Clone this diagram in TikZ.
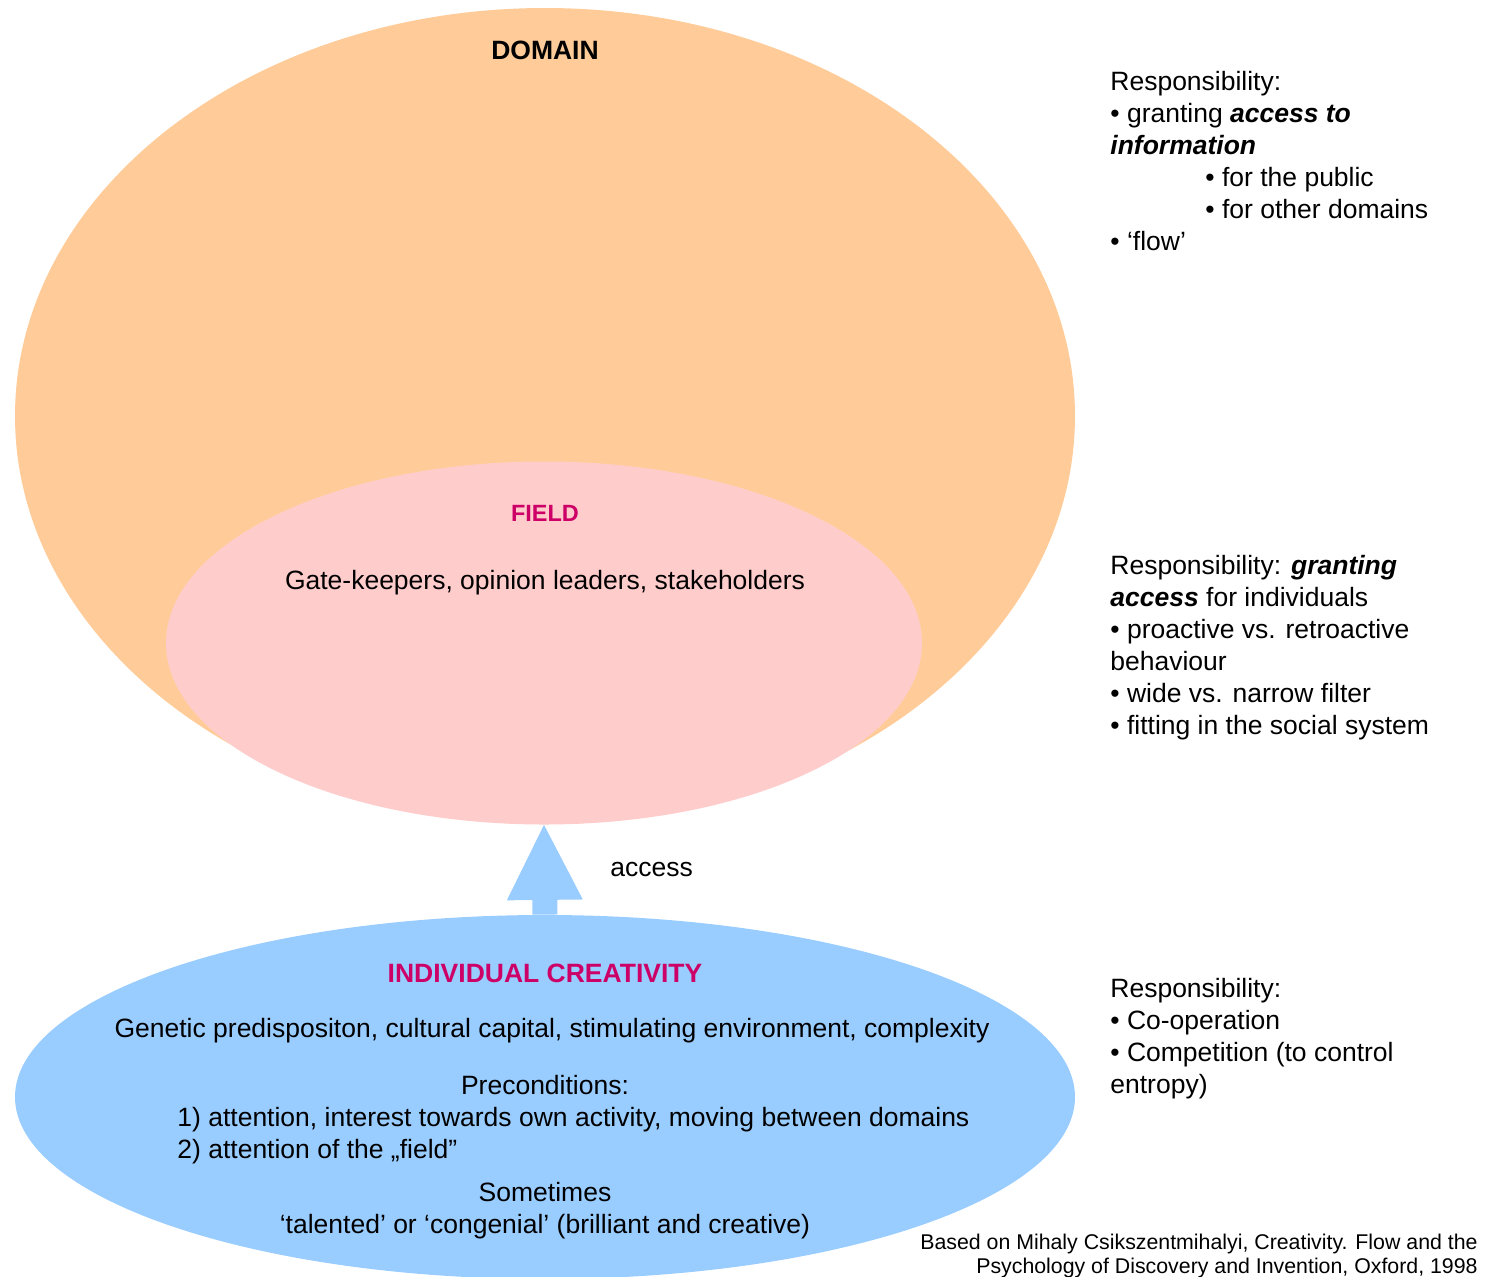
\documentclass[tikz,border=0pt]{standalone}
\usepackage{fontspec}
\setmainfont{Liberation Sans}
\usepackage{xcolor}
\usetikzlibrary{shapes.geometric, arrows.meta, positioning}
\definecolor{domainorange}{HTML}{FFCC99}
\definecolor{fieldpink}{HTML}{FFCCCC}
\definecolor{indivblue}{HTML}{99CCFF}
\definecolor{titlemagenta}{HTML}{CC0066}
\tikzset{every node/.append style={inner sep=0pt}}

\begin{document}
\begin{tikzpicture}[
    x=0.5pt, y=-0.5pt,
    txt/.style={font=\fontsize{13.25}{16}\selectfont, anchor=base},
    ttl/.style={font=\fontsize{13.25}{16}\selectfont\bfseries, anchor=base},
    resp/.style={font=\fontsize{13.25}{16}\selectfont, align=left, anchor=north west},
    blob/.style={ellipse, inner sep=0pt},
    acc/.style={draw=indivblue, line width=12.5pt,
        -{Triangle[length=37.5pt, width=38pt, line width=0pt, fill=indivblue]}}
]
\useasboundingbox (0,0) rectangle (1495,1276);

% ===== ELLIPSES =====
\node[blob, fill=domainorange, minimum width=530pt, minimum height=408pt] (domain) at (545,416) {};
\node[blob, fill=fieldpink, minimum width=378pt, minimum height=181.5pt] (field) at (544,643) {};
\node[blob, fill=indivblue, minimum width=530pt, minimum height=182pt] (indiv) at (545,1097) {};
\draw[acc] (indiv.north) -- (field.south);
\node[txt, anchor=base west] (acclbl) at (610,876) {access};

% ===== DOMAIN / FIELD =====
\node[ttl] (domaint) at (545,59) {DOMAIN};
\node[ttl, font=\fontsize{11.75}{14}\selectfont\bfseries, text=titlemagenta] (fieldt) at (545,521) {FIELD};
\node[txt] (gate) at (545,589) {Gate-keepers, opinion leaders, stakeholders};

% ===== INDIVIDUAL =====
\node[ttl, text=titlemagenta] (indivt) at (545,982) {INDIVIDUAL CREATIVITY};
\node[txt] (genetic) at (552,1037) {Genetic predispositon, cultural capital, stimulating environment, complexity};
\node[txt] (precond) at (545,1094) {Preconditions:};
\node[txt, anchor=base west] (pre1) at (177,1126) {1) attention, interest towards own activity, moving between domains};
\node[txt, anchor=base west] (pre2) at (177,1158) {2) attention of the „field”};
\node[txt] (sometimes) at (545,1201) {Sometimes};
\node[txt] (talented) at (545,1233) {‘talented’ or ‘congenial’ (brilliant and creative)};

% ===== RESPONSIBILITIES (right) =====
\node[resp] (respdomain) at (1110,71) {Responsibility:\\
  • granting \textbf{\textit{access to}}\\
  \textbf{\textit{information}}\\
  \hspace*{47.5pt}• for the public\\
  \hspace*{47.5pt}• for other domains\\
  • ‘flow’};
\node[resp] (respfield) at (1110,555) {Responsibility: \textbf{\textit{granting}}\\
  \textbf{\textit{access}} for individuals\\
  • proactive vs. retroactive\\
  behaviour\\
  • wide vs. narrow filter\\
  • fitting in the social system};
\node[resp] (respindiv) at (1110,978) {Responsibility:\\
  • Co-operation\\
  • Competition (to control\\
  entropy)};

% ===== SOURCE =====
\node[font=\fontsize{10.66}{12}\selectfont, align=right, anchor=north east] (source) at (1478,1234)
    {Based on Mihaly Csikszentmihalyi, Creativity. Flow and the\\
     Psychology of Discovery and Invention, Oxford, 1998};
\end{tikzpicture}
\end{document}
